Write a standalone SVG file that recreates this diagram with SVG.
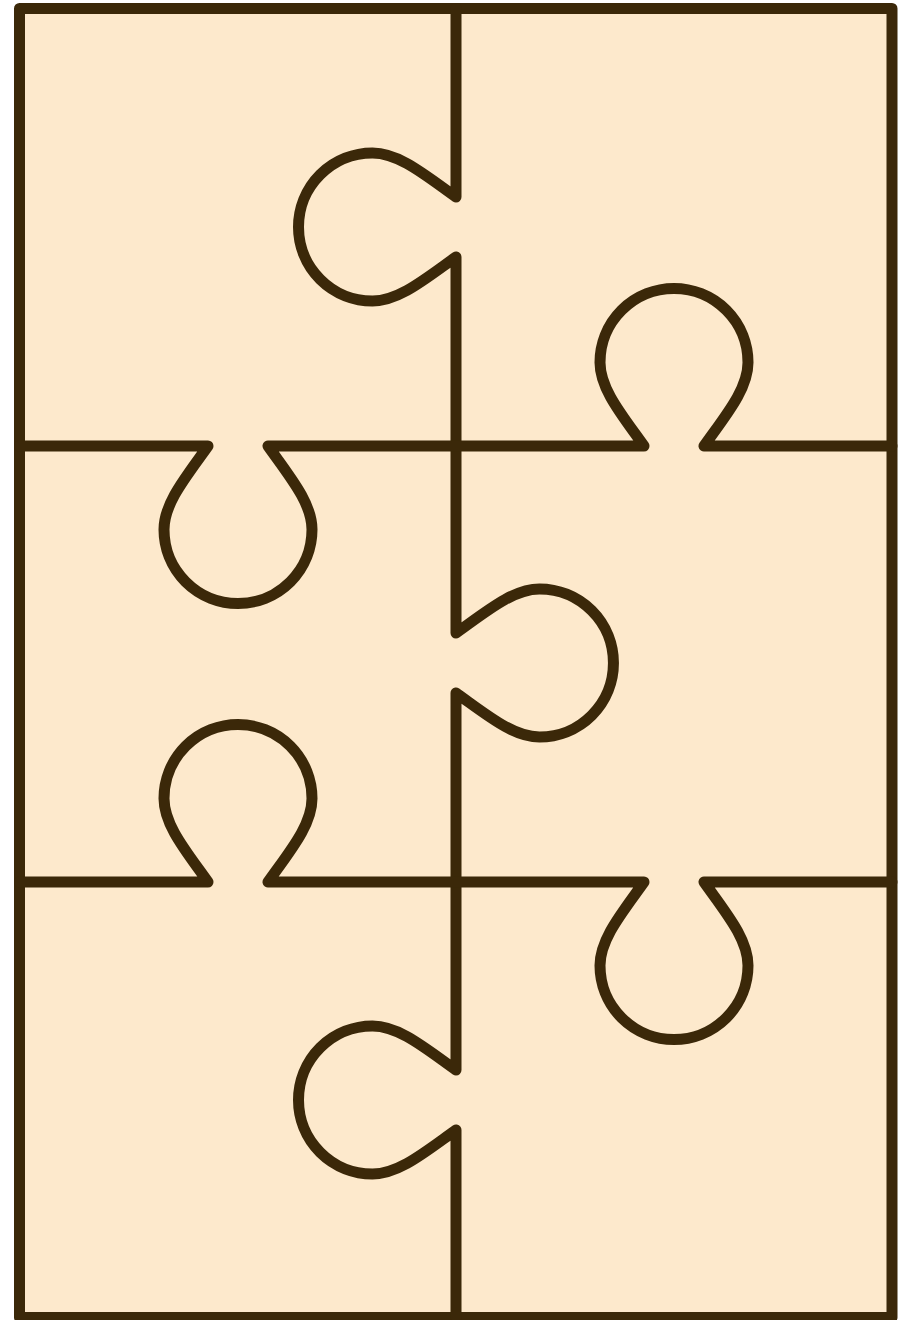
<svg xmlns="http://www.w3.org/2000/svg" width="899" height="1320" viewBox="0 0 899 1320">
<style>
.cut{fill:none;stroke:#3b2809;stroke-width:11;stroke-linecap:round;stroke-linejoin:round}
</style>
<rect width="899" height="1320" fill="#ffffff"/>
<g id="board">
<rect x="19.5" y="8.5" width="872.5" height="1309" fill="#fde9cc" stroke="#3b2809" stroke-width="11" stroke-linejoin="round"/>
</g>
<g id="cuts">
<path id="vertical-cut" class="cut" d="M456,8.5 V197 C425,175 399,153 372.5,153 A74,74 0 0 0 372.5,301 C399,301 425,279 456,257 V633 C487,611 513,589 539.5,589 A74,74 0 0 1 539.5,737 C513,737 487,715 456,693 V1070 C425,1048 399,1026 372.5,1026 A74,74 0 0 0 372.5,1174 C399,1174 425,1152 456,1130 V1317.5"/>
<path id="horizontal-cut-1" class="cut" d="M19.5,446 H208 C186,477 164,503 164,529.5 A74,74 0 0 0 312,529.5 C312,503 290,477 268,446 H644 C622,415 600,389 600,362.5 A74,74 0 0 1 748,362.5 C748,389 726,415 704,446 H892"/>
<path id="horizontal-cut-2" class="cut" d="M19.5,882 H208 C186,851 164,825 164,798.5 A74,74 0 0 1 312,798.5 C312,825 290,851 268,882 H644 C622,913 600,939 600,965.5 A74,74 0 0 0 748,965.5 C748,939 726,913 704,882 H892"/>
</g>
</svg>
